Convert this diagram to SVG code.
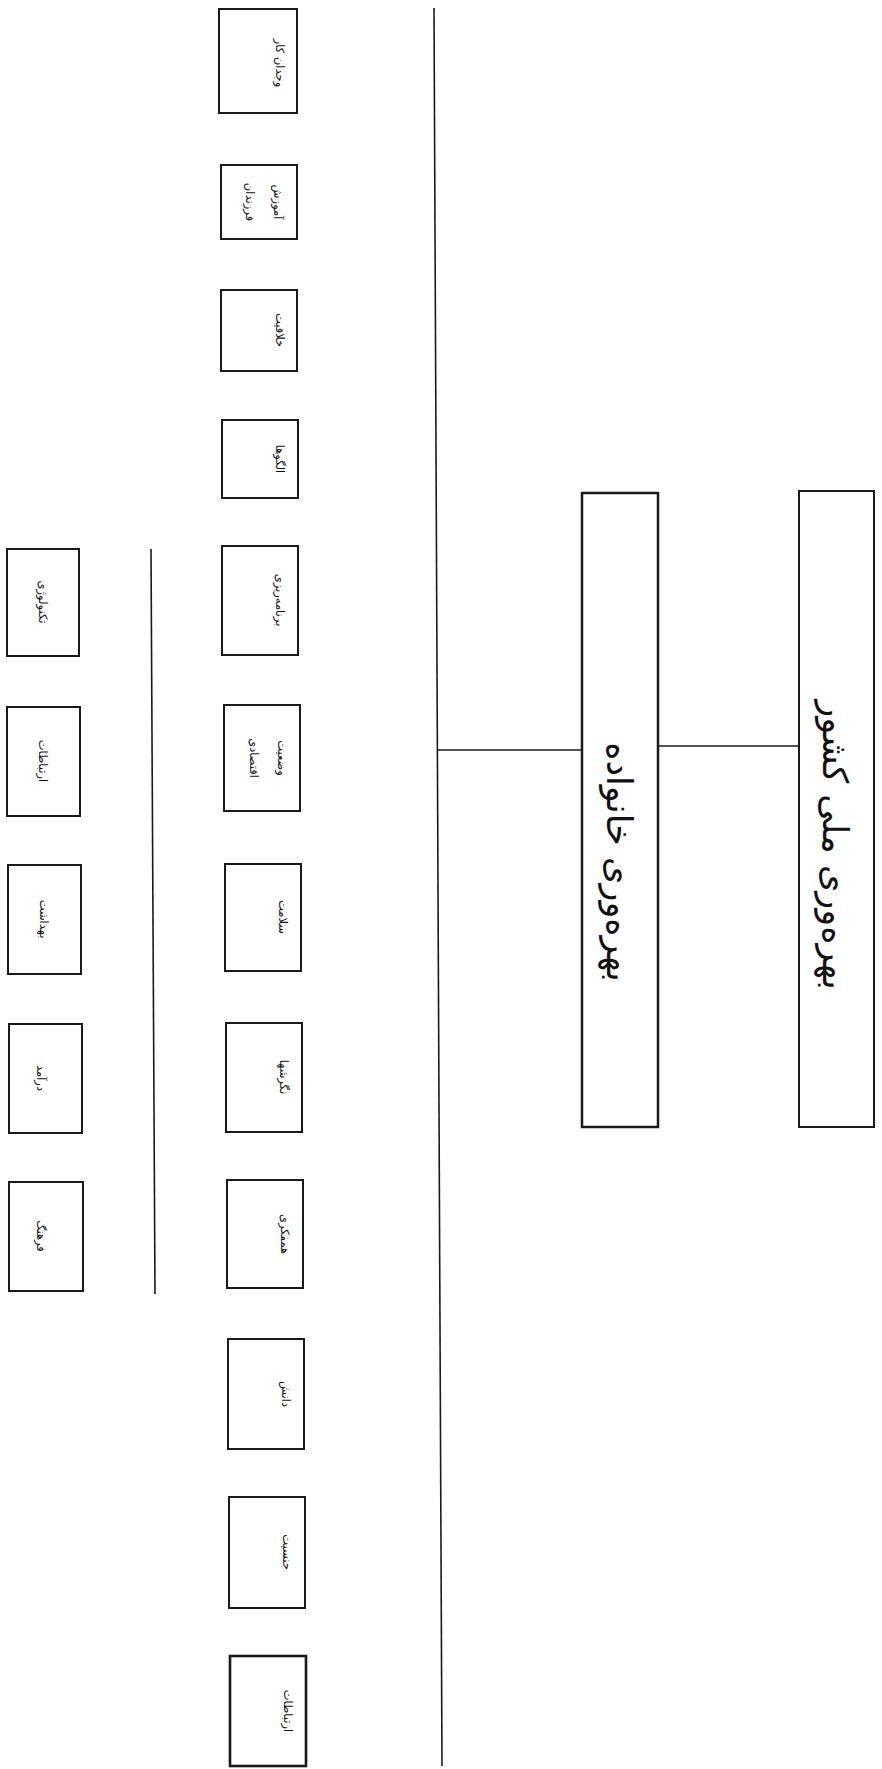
<svg xmlns="http://www.w3.org/2000/svg" width="882" height="1769" viewBox="0 0 882 1769">
  <style>
    .box { fill: #ffffff; stroke: #1a1a1a; stroke-width: 2; }
    .wire { fill: none; stroke: #1a1a1a; stroke-width: 1.6; }
    .lbl { font-family: "DejaVu Sans", "Noto Sans", sans-serif; fill: #111111; text-anchor: middle; dominant-baseline: central; direction: rtl; }
    .big { font-size: 35px; }
    .sm { font-size: 11.5px; }
  </style>
  <rect x="0" y="0" width="882" height="1769" fill="#ffffff"/>

  <!-- connectors -->
  <g id="connectors">
    <line class="wire" x1="658" y1="746" x2="799" y2="746"/>
    <line class="wire" x1="438" y1="750" x2="582" y2="750"/>
    <line class="wire" x1="434" y1="8" x2="442" y2="1766"/>
    <line class="wire" x1="151" y1="549" x2="155" y2="1294"/>
  </g>

  <!-- top level -->
  <g id="n-national">
    <rect class="box" x="799" y="491" width="75" height="636"/>
    <text class="lbl big" transform="translate(835,845) rotate(90)">بهره‌وری ملی کشور</text>
  </g>
  <g id="n-family">
    <rect class="box" x="582" y="493" width="76" height="634" style="stroke-width:2.5"/>
    <text class="lbl big" transform="translate(619,862) rotate(90)">بهره‌وری خانواده</text>
  </g>

  <!-- family factors -->
  <g id="n-f1">
    <rect class="box" x="219" y="9" width="78" height="104"/>
    <text class="lbl sm" transform="translate(280,63) rotate(90)">وجدان کار</text>
  </g>
  <g id="n-f2">
    <rect class="box" x="221" y="165" width="76" height="74"/>
    <text class="lbl sm" transform="translate(278,202) rotate(90)">آموزش</text>
    <text class="lbl sm" transform="translate(250,202) rotate(90)">فرزندان</text>
  </g>
  <g id="n-f3">
    <rect class="box" x="221" y="290" width="76" height="81"/>
    <text class="lbl sm" transform="translate(280,330) rotate(90)">خلاقیت</text>
  </g>
  <g id="n-f4">
    <rect class="box" x="222" y="420" width="76" height="78"/>
    <text class="lbl sm" transform="translate(280,459) rotate(90)">الگوها</text>
  </g>
  <g id="n-f5">
    <rect class="box" x="222" y="546" width="76" height="109"/>
    <text class="lbl sm" transform="translate(280,600) rotate(90)">برنامه‌ریزی</text>
  </g>
  <g id="n-f6">
    <rect class="box" x="224" y="705" width="76" height="106"/>
    <text class="lbl sm" transform="translate(282,758) rotate(90)">وضعیت</text>
    <text class="lbl sm" transform="translate(254,758) rotate(90)">اقتصادی</text>
  </g>
  <g id="n-f7">
    <rect class="box" x="225" y="864" width="76" height="107"/>
    <text class="lbl sm" transform="translate(283,917) rotate(90)">سلامت</text>
  </g>
  <g id="n-f8">
    <rect class="box" x="226" y="1023" width="76" height="109"/>
    <text class="lbl sm" transform="translate(284,1077) rotate(90)">نگرشها</text>
  </g>
  <g id="n-f9">
    <rect class="box" x="227" y="1180" width="76" height="108"/>
    <text class="lbl sm" transform="translate(285,1234) rotate(90)">همفکری</text>
  </g>
  <g id="n-f10">
    <rect class="box" x="228" y="1339" width="76" height="110"/>
    <text class="lbl sm" transform="translate(286,1394) rotate(90)">دانش</text>
  </g>
  <g id="n-f11">
    <rect class="box" x="229" y="1497" width="76" height="111"/>
    <text class="lbl sm" transform="translate(287,1552) rotate(90)">جنسیت</text>
  </g>
  <g id="n-f12">
    <rect class="box" x="230" y="1656" width="76" height="110" style="stroke-width:2.6"/>
    <text class="lbl sm" transform="translate(288,1711) rotate(90)">ارتباطات</text>
  </g>

  <!-- outer factors -->
  <g id="n-o1">
    <rect class="box" x="7" y="549" width="72" height="107"/>
    <text class="lbl sm" transform="translate(43,602) rotate(90)">تکنولوژی</text>
  </g>
  <g id="n-o2">
    <rect class="box" x="7" y="707" width="73" height="109"/>
    <text class="lbl sm" transform="translate(43,761) rotate(90)">ارتباطات</text>
  </g>
  <g id="n-o3">
    <rect class="box" x="8" y="865" width="73" height="109"/>
    <text class="lbl sm" transform="translate(44,919) rotate(90)">بهداشت</text>
  </g>
  <g id="n-o4">
    <rect class="box" x="9" y="1024" width="73" height="109"/>
    <text class="lbl sm" transform="translate(41,1078) rotate(90)">درآمد</text>
  </g>
  <g id="n-o5">
    <rect class="box" x="9" y="1182" width="74" height="109"/>
    <text class="lbl sm" transform="translate(41,1236) rotate(90)">فرهنگ</text>
  </g>
</svg>
